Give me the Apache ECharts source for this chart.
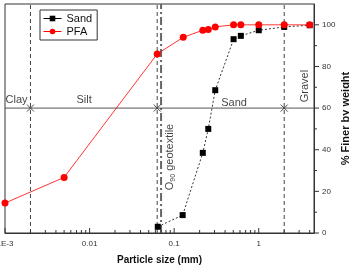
<!DOCTYPE html>
<html>
<head>
<meta charset="utf-8">
<script src="https://cdn.jsdelivr.net/npm/echarts@6/dist/echarts.min.js"></script>
<style>
  html, body { margin: 0; padding: 0; background: #fff; }
  #chart { width: 349px; height: 268px; }
</style>
</head>
<body>
<div id="chart"></div>
<script>
// particle size (mm) and % finer
var sandSize = [0.064, 0.126, 0.218, 0.253, 0.306, 0.504, 0.614, 1, 2, 4];
var sandFiner = [3, 8.6, 38.5, 50, 68.6, 93.1, 94.7, 97.4, 99, 99.8];
var pfaSize = [0.001, 0.005, 0.063, 0.128, 0.218, 0.253, 0.306, 0.504, 0.614, 1, 2, 4];
var pfaFiner = [14.4, 26.7, 86, 94, 97.4, 97.8, 99, 100, 100, 100, 100, 100];

var boundaries = [0.002, 0.063, 2];   // clay/silt, silt/sand, sand/gravel
var boundaryLevel = 60;
var o90 = 0.07;
var yTicks = [0, 20, 40, 60, 80, 100];
var yMinor = [10, 30, 50, 70, 90];
var xDecades = [0.001, 0.01, 0.1, 1];

var xMin = 0.001, xMax = 4.5, yMin = 0, yMax = 110;
var font = 'Liberation Sans';

// minor ticks on the log axis: 2..9 of each decade
var xMinorTicks = [];
xDecades.forEach(function (d) {
  for (var k = 2; k <= 9; k++) {
    if (d * k < xMax) xMinorTicks.push(d * k);
  }
});

function pair(xs, ys) {
  var out = [];
  for (var i = 0; i < xs.length; i++) out.push([xs[i], ys[i]]);
  return out;
}

var chart = echarts.init(document.getElementById('chart'));

var labels = [
  { value: [0.00137, 64], name: 'Clay' },
  { value: [0.0086, 64], name: 'Silt' },
  { value: [0.511, 62.6], name: 'Sand' }
];

var option = {
  animation: false,
  grid: {
    left: 5, right: 35, top: 4, bottom: 35,
    outerBoundsMode: 'none', containLabel: false,
    show: true, borderColor: '#333', borderWidth: 1
  },
  legend: {
    left: 40, top: 10,
    orient: 'vertical',
    itemGap: 2,
    itemWidth: 18, itemHeight: 7,
    padding: [3, 5, 3, 3],
    borderColor: '#333', borderWidth: 1,
    backgroundColor: '#fff',
    textStyle: { fontFamily: font, fontSize: 11, color: '#111' },
    data: [
      { name: 'Sand', itemStyle: { color: '#000' }, lineStyle: { type: 'solid', width: 1 } },
      { name: 'PFA', lineStyle: { width: 1 } }
    ]
  },
  xAxis: {
    type: 'log', logBase: 10, min: xMin, max: xMax, interval: 1,
    name: 'Particle size (mm)', nameLocation: 'middle', nameGap: 22,
    nameTextStyle: { fontFamily: font, fontSize: 10, fontWeight: 'bold', color: '#111' },
    axisLine: { lineStyle: { color: '#333', width: 1 } },
    axisTick: { show: false },
    splitLine: { show: false },
    axisLabel: {
      fontFamily: font, fontSize: 8, color: '#333', margin: 7,
      showMaxLabel: false, hideOverlap: false,
      formatter: function (v) {
        if (Math.abs(v - 0.001) < 1e-9) return '1E-3';
        if (Math.abs(v - 0.01) < 1e-9) return '0.01';
        if (Math.abs(v - 0.1) < 1e-9) return '0.1';
        if (Math.abs(v - 1) < 1e-9) return '1';
        return '';
      }
    }
  },
  yAxis: {
    type: 'value', position: 'right', min: yMin, max: yMax, interval: 20,
    name: '% Finer by weight', nameLocation: 'middle', nameGap: 26, nameRotate: 90,
    nameMoveOverlap: false,
    nameTextStyle: { fontFamily: font, fontSize: 11, fontWeight: 'bold', color: '#111' },
    axisLine: { show: true, lineStyle: { color: '#333', width: 1 } },
    axisTick: { show: false },
    splitLine: { show: false },
    axisLabel: {
      fontFamily: font, fontSize: 8, color: '#333', margin: 8,
      formatter: function (v) { return v <= 100 ? String(v) : ''; }
    }
  },
  series: [
    // horizontal boundary line at 60 %
    {
      type: 'line', silent: true, symbol: 'none',
      data: [[xMin, boundaryLevel], [xMax, boundaryLevel]],
      lineStyle: { color: '#555', width: 1 }
    },
    // vertical dashed class boundaries
    {
      type: 'custom', silent: true, clip: false,
      data: boundaries.map(function (b) { return [b]; }),
      renderItem: function (params, api) {
        var p0 = api.coord([api.value(0), yMin]);
        var p1 = api.coord([api.value(0), yMax]);
        return {
          type: 'line',
          shape: { x1: p0[0], y1: p0[1], x2: p1[0], y2: p1[1] },
          style: { stroke: '#444', lineWidth: 1, lineDash: [4, 3] }
        };
      }
    },
    // O90 dash-dot line
    {
      type: 'custom', silent: true, clip: false,
      data: [[o90]],
      renderItem: function (params, api) {
        var p0 = api.coord([api.value(0), yMin]);
        var p1 = api.coord([api.value(0), yMax]);
        return {
          type: 'line',
          shape: { x1: p0[0], y1: p0[1], x2: p1[0], y2: p1[1] },
          style: { stroke: '#666', lineWidth: 2, lineDash: [8, 3, 2, 3] }
        };
      }
    },
    // crosses where boundaries meet 60 %
    {
      type: 'scatter', silent: true,
      symbol: 'path://M0,0L10,10M10,0L0,10', symbolSize: 7,
      itemStyle: { color: 'none', borderColor: '#222', borderWidth: 1 },
      data: boundaries.map(function (b) { return [b, boundaryLevel]; }),
      z: 3
    },
    // x minor/major ticks (inside)
    {
      type: 'custom', silent: true, clip: false,
      data: xMinorTicks.map(function (v) { return [v, 3]; }).concat(xDecades.map(function (v) { return [v, 5]; })),
      renderItem: function (params, api) {
        var p = api.coord([api.value(0), yMin]);
        var len = api.value(1);
        return {
          type: 'line',
          shape: { x1: p[0], y1: p[1], x2: p[0], y2: p[1] - len },
          style: { stroke: '#333', lineWidth: 1 }
        };
      }
    },
    // y ticks (outside, right)
    {
      type: 'custom', silent: true, clip: false,
      data: yTicks.map(function (v) { return [xMax, v, 5]; }).concat(yMinor.map(function (v) { return [xMax, v, 3]; })),
      renderItem: function (params, api) {
        var p = api.coord([api.value(0), api.value(1)]);
        var len = api.value(2);
        return {
          type: 'line',
          shape: { x1: p[0], y1: p[1], x2: p[0] + len, y2: p[1] },
          style: { stroke: '#333', lineWidth: 1 }
        };
      }
    },
    // class text labels
    {
      type: 'scatter', silent: true, symbolSize: 0,
      data: labels,
      label: {
        show: true, position: 'inside', formatter: '{b}',
        fontFamily: font, fontSize: 11, color: '#111'
      }
    },
    {
      type: 'scatter', silent: true, symbolSize: 0,
      data: [{ value: [3.55, 70.6], name: 'Gravel' }],
      label: {
        show: true, position: 'inside', formatter: '{b}', rotate: 90,
        fontFamily: font, fontSize: 11, color: '#111'
      }
    },
    {
      type: 'scatter', silent: true, symbolSize: 0,
      data: [{ value: [0.0897, 36.5], name: 'O90' }],
      label: {
        show: true, position: 'inside', rotate: 90,
        formatter: 'O{sub|90} geotextile',
        fontFamily: font, fontSize: 11, color: '#111',
        rich: { sub: { fontFamily: font, fontSize: 7, color: '#111', verticalAlign: 'bottom', padding: [6, 0, 0, 0] } }
      }
    },
    {
      name: 'Sand', type: 'line',
      data: pair(sandSize, sandFiner),
      symbol: 'rect', symbolSize: 6,
      itemStyle: { color: '#000' },
      lineStyle: { color: '#000', width: 0.8, type: [2, 2] },
      z: 5
    },
    {
      name: 'PFA', type: 'line',
      data: pair(pfaSize, pfaFiner),
      symbol: 'circle', symbolSize: 7,
      itemStyle: { color: '#ff0000' },
      lineStyle: { color: '#ff0000', width: 0.8 },
      z: 6
    }
  ]
};

chart.setOption(option);
</script>
</body>
</html>
